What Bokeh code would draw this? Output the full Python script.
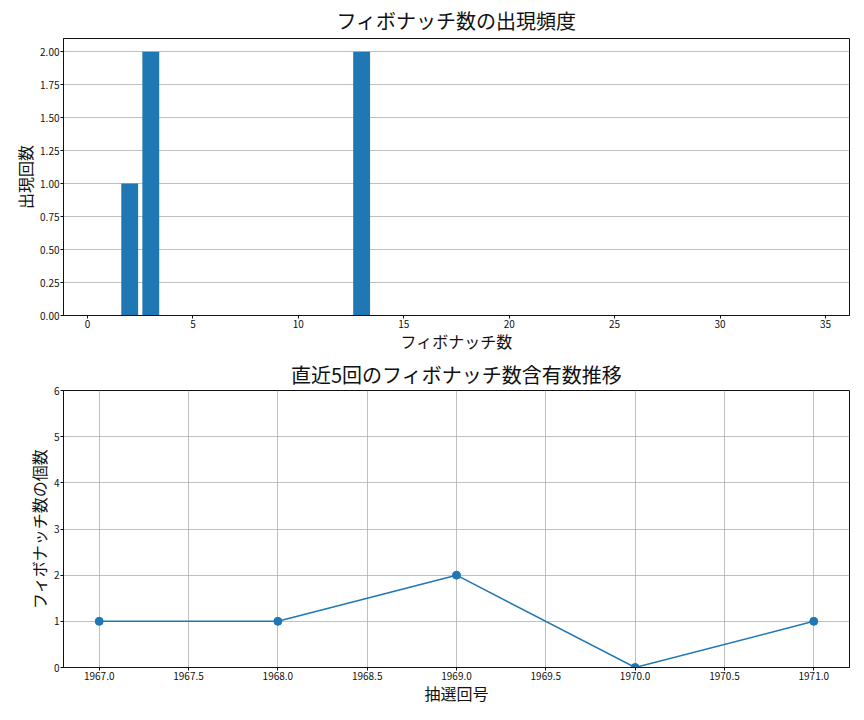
from bokeh.plotting import figure
from bokeh.layouts import column
from bokeh.models import FixedTicker, PrintfTickFormatter, Range1d
from bokeh.embed import file_html
from bokeh.resources import INLINE

# Top chart data
fib_numbers = [2, 3, 13]
fib_counts = [1, 2, 2]
top_xticks = [0, 5, 10, 15, 20, 25, 30, 35]
top_yticks = [0.0, 0.25, 0.5, 0.75, 1.0, 1.25, 1.5, 1.75, 2.0]

# Bottom chart data
draw_numbers = [1967, 1968, 1969, 1970, 1971]
fib_contained = [1, 1, 2, 0, 1]
bottom_xticks = [1967.0, 1967.5, 1968.0, 1968.5, 1969.0, 1969.5, 1970.0, 1970.5, 1971.0]
bottom_yticks = [0, 1, 2, 3, 4, 5, 6]

FONT = "Noto Sans CJK JP"
BLUE = "#1f77b4"
INK = "#111111"


def style(p, xgrid, ygrid, title_standoff):
    p.title.text_font = FONT
    p.title.text_font_size = "20px"
    p.title.text_font_style = "normal"
    p.title.text_color = INK
    p.title.align = "center"
    p.title.standoff = title_standoff
    p.outline_line_color = INK
    p.outline_line_width = 1
    for ax in (p.xaxis[0], p.yaxis[0]):
        ax.axis_label_text_font = FONT
        ax.axis_label_text_font_size = "16px"
        ax.axis_label_text_font_style = "normal"
        ax.axis_label_text_color = INK
        ax.major_label_text_font = FONT
        ax.major_label_text_font_size = "10px"
        ax.major_label_text_color = INK
        ax.major_label_standoff = 1
        ax.major_tick_in = 0
        ax.major_tick_out = 3
        ax.minor_tick_in = 0
        ax.minor_tick_out = 0
        ax.axis_line_color = INK
        ax.major_tick_line_color = INK
        ax.axis_label_standoff = 0
    p.xaxis[0].axis_label_standoff = -2
    p.xgrid.visible = xgrid
    p.ygrid.visible = ygrid
    p.grid.grid_line_color = "#b0b0b0"
    p.grid.grid_line_width = 0.8


p1 = figure(frame_width=786, frame_height=277, output_backend="svg", toolbar_location=None,
            title="フィボナッチ数の出現頻度",
            x_range=Range1d(-1.14, 36.14), y_range=Range1d(0, 2.1),
            min_border_left=63, min_border_right=4, min_border_top=20, min_border_bottom=20)
p1.vbar(x=fib_numbers, top=fib_counts, width=0.8, color=BLUE, line_color=None)
p1.xaxis.axis_label = "フィボナッチ数"
p1.yaxis.axis_label = "出現回数"
p1.xaxis.ticker = FixedTicker(ticks=top_xticks)
p1.yaxis.ticker = FixedTicker(ticks=top_yticks)
p1.yaxis.formatter = PrintfTickFormatter(format="%.2f")
style(p1, False, True, 7)

p2 = figure(frame_width=786, frame_height=277, output_backend="svg", toolbar_location=None,
            title="直近5回のフィボナッチ数含有数推移",
            x_range=Range1d(1966.8, 1971.2), y_range=Range1d(0, 6),
            min_border_left=63, min_border_right=4, min_border_top=20, min_border_bottom=20)
p2.line(draw_numbers, fib_contained, color=BLUE, line_width=1.5)
p2.scatter(draw_numbers, fib_contained, color=BLUE, size=8)
p2.xaxis.axis_label = "抽選回号"
p2.yaxis.axis_label = "フィボナッチ数の個数"
p2.xaxis.ticker = FixedTicker(ticks=bottom_xticks)
p2.yaxis.ticker = FixedTicker(ticks=bottom_yticks)
p2.xaxis.formatter = PrintfTickFormatter(format="%.1f")
style(p2, True, True, 4)

layout = column(p1, p2, spacing=0)
open("out.html", "w").write(file_html(layout, INLINE))
